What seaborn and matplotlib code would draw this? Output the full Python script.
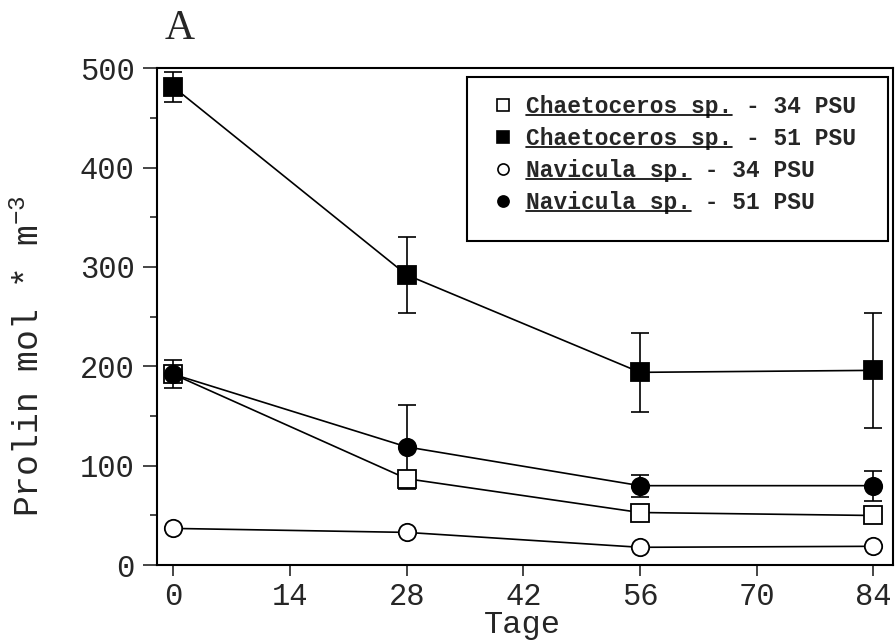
import seaborn as sns
import matplotlib.pyplot as plt
import pandas as pd
from matplotlib.lines import Line2D
from matplotlib.patches import Rectangle

# ---------------------------
# Data
# ---------------------------
days = [0, 28, 56, 84]

chaeto_34 = [192, 87, 53, 50]
chaeto_51 = [481, 292, 194, 196]
chaeto_51_err = [15, 38, 40, 58]
navi_34 = [37, 33, 18, 19]
navi_51 = [192, 119, 80, 80]
navi_51_err = [14, 42, 11, 15]

species = ["Chaetoceros sp.", "Chaetoceros sp.", "Navicula sp.", "Navicula sp."]
salinity = ["34 PSU", "51 PSU", "34 PSU", "51 PSU"]
x_ticks = [0, 14, 28, 42, 56, 70, 84]
y_ticks = [0, 100, 200, 300, 400, 500]

# ---------------------------
# Style
# ---------------------------
sns.set_style("ticks")
plt.rcParams["font.family"] = ["Liberation Mono", "DejaVu Sans Mono"]
plt.rcParams["mathtext.fontset"] = "custom"
plt.rcParams["mathtext.rm"] = "Liberation Mono"
plt.rcParams["mathtext.default"] = "rm"

fig = plt.figure(figsize=(8.96, 6.43), dpi=100)
ax = fig.add_axes([0.175, 0.121, 0.822, 0.773])

series = [
    (chaeto_34, None, "s", "white"),
    (chaeto_51, chaeto_51_err, "s", "black"),
    (navi_34, None, "o", "white"),
    (navi_51, navi_51_err, "o", "black"),
]

for vals, err, mk, fc in series:
    if err is not None:
        ax.errorbar(days, vals, yerr=err, fmt="none", ecolor="black",
                    elinewidth=1.2, capsize=6.5, capthick=1.2, zorder=2)
    sns.lineplot(x=days, y=vals, ax=ax, color="black", linewidth=1.2,
                 marker=mk, markersize=12.5, markerfacecolor=fc,
                 markeredgecolor="black", markeredgewidth=1.3,
                 errorbar=None, zorder=3)

ax.set_xlim(-2.0, 86.4)
ax.set_ylim(0, 500)
ax.set_xticks(x_ticks)
ax.set_yticks(y_ticks)
ax.set_yticks(range(50, 500, 100), minor=True)
ax.tick_params(axis="x", direction="out", length=8, width=1.2, labelsize=22, pad=4)
ax.tick_params(axis="y", which="major", direction="out", length=10, width=1.2,
               labelsize=22, pad=6)
ax.tick_params(axis="y", which="minor", direction="out", length=5, width=1.2)
for s in ax.spines.values():
    s.set_linewidth(1.5)
    s.set_color("black")

ax.set_xlabel("Tage", fontsize=23)
ax.xaxis.set_label_coords(0.496, -0.09)
ax.set_ylabel(r"Prolin mol * m$^{-3}$", fontsize=25)
ax.yaxis.set_label_coords(-0.15, 0.42)
fig.text(0.2, 0.955, "A", fontsize=30, family="Liberation Serif",
         ha="center", va="center")

# ---------------------------
# Legend (underlined species names)
# ---------------------------
labels = [f"{sp} - {sal}" for sp, sal in zip(species, salinity)]
handles = [Line2D([], [], linestyle="none", marker=mk, markersize=8,
                  markerfacecolor=fc, markeredgecolor="black", markeredgewidth=1.2)
           for _, _, mk, fc in series]
ax.add_patch(Rectangle((0.421, 0.652), 0.572, 0.33, transform=ax.transAxes,
                       fill=False, edgecolor="black", linewidth=1.5, zorder=5))
leg = ax.legend(handles, labels, loc="upper left", bbox_to_anchor=(0.43, 0.988),
                frameon=False, handlelength=0.8, handletextpad=0.6,
                labelspacing=0.4, prop={"size": 16.5, "weight": "bold"})

fig.canvas.draw()
renderer = fig.canvas.get_renderer()
inv = fig.transFigure.inverted()
for t, sp in zip(leg.get_texts(), species):
    bb = t.get_window_extent(renderer)
    frac = len(sp) / len(t.get_text())
    x0, y0 = inv.transform((bb.x0, bb.y0 + 3))
    x1, _ = inv.transform((bb.x0 + frac * bb.width, bb.y0 + 3))
    fig.add_artist(Line2D([x0, x1], [y0, y0], color="black", linewidth=1.2,
                          transform=fig.transFigure))

fig.savefig("out.png", dpi=100)
plt.close(fig)
